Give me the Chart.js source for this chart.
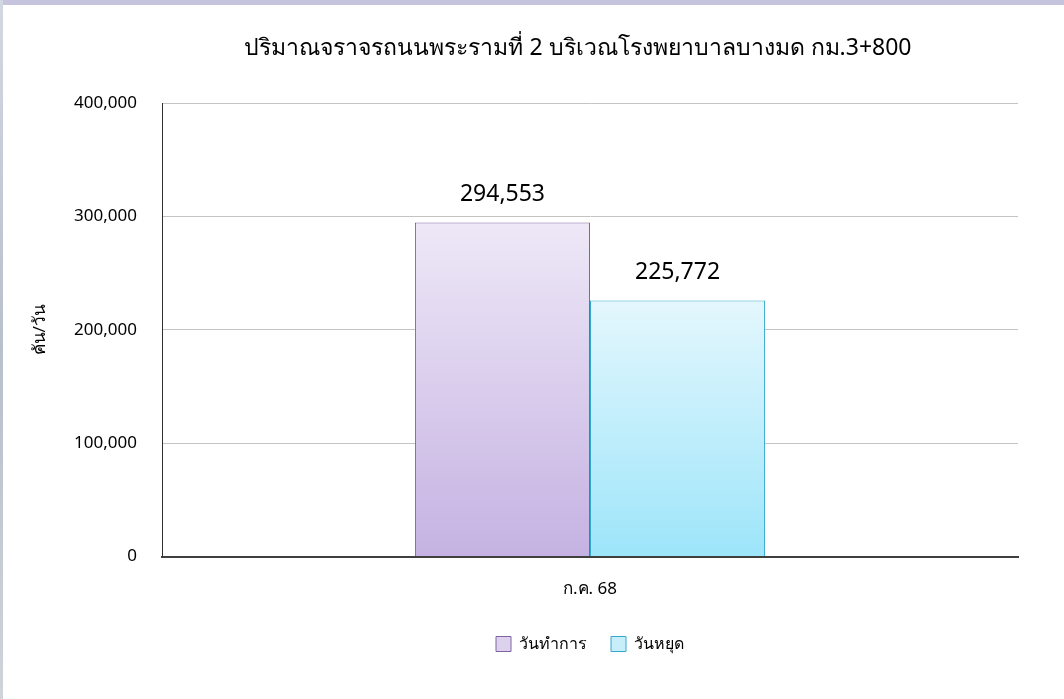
<!DOCTYPE html>
<html>
<head>
<meta charset="utf-8">
<script src="https://cdn.jsdelivr.net/npm/chart.js@4.4.1/dist/chart.umd.min.js"></script>
<style>
  html, body { margin: 0; padding: 0; background: #fff; }
  body { width: 1064px; height: 699px; overflow: hidden; position: relative; }
  .topStrip { position: absolute; left: 0; top: 0; width: 1064px; height: 5px; background: #c6c3dc; }
  .leftStrip { position: absolute; left: 0; top: 0; width: 3px; height: 699px; background: linear-gradient(#d3d7e2, #b8c0cc 50%, #cfd3da); }
  .wrap { position: absolute; left: 0; top: 0; width: 1064px; height: 699px; }
</style>
</head>
<body>
<div class="wrap"><canvas id="chart" width="1064" height="699"></canvas></div>
<div class="topStrip"></div>
<div class="leftStrip"></div>
<script>
const FONT = 'Tahoma, "Noto Sans", "DejaVu Sans", sans-serif';

const chartTitle = 'ปริมาณจราจรถนนพระรามที่ 2 บริเวณโรงพยาบาลบางมด กม.3+800';
const yAxisTitle = 'คัน/วัน';
const categories = ['ก.ค. 68'];
const seriesNames = ['วันทำการ', 'วันหยุด'];
const workdayValues = [294553];
const holidayValues = [225772];
const yTicks = [0, 100000, 200000, 300000, 400000];

// цвета заливки: верх / низ / рамка
const palette = [
  { top: '#eee8f7', bottom: '#c5b2e2', border: '#8064a2', legend: '#ddd2ee' },
  { top: '#e4f7fd', bottom: '#9de5fa', border: '#34a8cc', legend: '#c8eef9' }
];

function makeGradient(ctx, idx) {
  const area = ctx.chart.chartArea;
  const yScale = ctx.chart.scales.y;
  if (!area || !yScale || ctx.raw === undefined) return palette[idx].bottom;
  const top = yScale.getPixelForValue(ctx.raw);
  if (!isFinite(top) || !isFinite(area.bottom)) return palette[idx].bottom;
  const g = ctx.chart.ctx.createLinearGradient(0, top, 0, area.bottom);
  g.addColorStop(0, palette[idx].top);
  g.addColorStop(1, palette[idx].bottom);
  return g;
}

const fmt = (v) => v.toLocaleString('en-US');

// подписи значений над столбцами + заголовок
const valueLabels = {
  id: 'valueLabels',
  afterLayout(chart) {
    // легенда в оригинале центрирована по области графика
    const shift = (chart.chartArea.left + chart.chartArea.right) / 2 - (chart.legend.left + chart.legend.right) / 2;
    chart.legend.left += shift;
    chart.legend.right += shift;
  },
  afterDatasetsDraw(chart) {
    const ctx = chart.ctx;
    ctx.save();
    ctx.font = '23px ' + FONT;
    ctx.fillStyle = '#000';
    ctx.textAlign = 'center';
    ctx.textBaseline = 'middle';
    chart.data.datasets.forEach((ds, i) => {
      chart.getDatasetMeta(i).data.forEach((bar, j) => {
        ctx.fillText(fmt(ds.data[j]), bar.x, bar.y - 28);
      });
    });
    ctx.fillText(chartTitle, 578, 48);
    ctx.restore();
  }
};

new Chart(document.getElementById('chart'), {
  type: 'bar',
  data: {
    labels: categories,
    datasets: [
      {
        label: seriesNames[0],
        data: workdayValues,
        backgroundColor: (ctx) => makeGradient(ctx, 0),
        borderColor: palette[0].border,
        borderWidth: 1,
        borderSkipped: 'bottom',
        categoryPercentage: 0.409,
        barPercentage: 1
      },
      {
        label: seriesNames[1],
        data: holidayValues,
        backgroundColor: (ctx) => makeGradient(ctx, 1),
        borderColor: palette[1].border,
        borderWidth: 1,
        borderSkipped: 'bottom',
        categoryPercentage: 0.409,
        barPercentage: 1
      }
    ]
  },
  options: {
    responsive: false,
    animation: false,
    devicePixelRatio: 1,
    layout: { padding: { left: 0, right: 46, top: 103, bottom: 37 } },
    scales: {
      x: {
        afterFit: (scale) => { scale.height = scale.height - 9; },
        grid: { display: false, drawTicks: false },
        border: { display: true, color: '#404040', width: 2 },
        ticks: {
          color: '#000',
          padding: 22,
          font: { family: FONT, size: 17 }
        }
      },
      y: {
        min: 0,
        max: 400000,
        afterBuildTicks: (scale) => { scale.ticks = yTicks.map(v => ({ value: v })); },
        afterFit: (scale) => { scale.width = 162; },
        grid: { color: '#c4c4c4', lineWidth: 1, drawTicks: false },
        border: { display: true, color: '#303030', width: 1 },
        ticks: {
          color: '#000',
          padding: 25,
          font: { family: FONT, size: 17 },
          callback: (v) => fmt(v)
        },
        title: {
          display: true,
          text: yAxisTitle,
          color: '#000',
          font: { family: FONT, size: 17 },
          padding: { top: 30, bottom: 0 }
        }
      }
    },
    plugins: {
      title: { display: false },
      legend: {
        position: 'bottom',
        labels: {
          color: '#000',
          boxWidth: 15,
          boxHeight: 15,
          padding: 24,
          font: { family: FONT, size: 16 },
          generateLabels: (chart) => chart.data.datasets.map((ds, i) => ({
            text: ds.label,
            fillStyle: palette[i].legend,
            strokeStyle: palette[i].border,
            lineWidth: 1,
            datasetIndex: i,
            hidden: false
          }))
        }
      },
      tooltip: { enabled: false }
    }
  },
  plugins: [valueLabels]
});
</script>
</body>
</html>
